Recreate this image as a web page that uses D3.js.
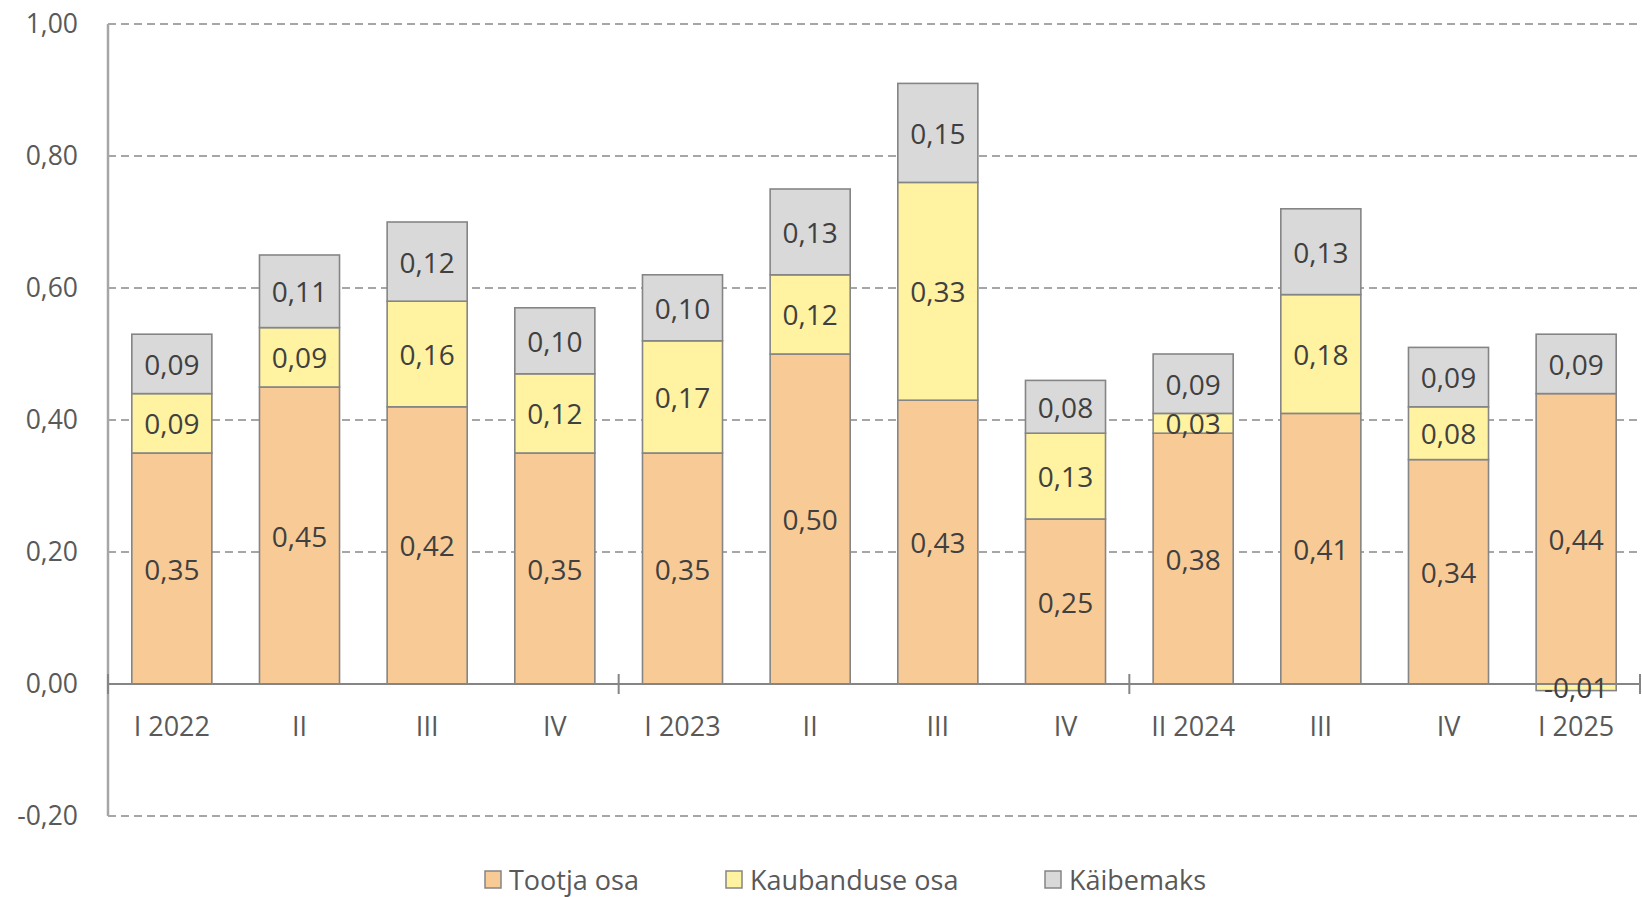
<!DOCTYPE html>
<html>
<head>
<meta charset="utf-8">
<script src="https://cdn.jsdelivr.net/npm/d3@7/dist/d3.min.js"></script>
<style>
  html, body { margin: 0; padding: 0; background: #ffffff; }
  svg { display: block; font-family: "Open Sans", "Noto Sans", sans-serif; }
</style>
</head>
<body>
<svg id="chart" width="1642" height="897"></svg>
<script>
// Quarterly categories
const categories = ["I 2022", "II", "III", "IV", "I 2023", "II", "III", "IV", "II 2024", "III", "IV", "I 2025"];

// Series values (euro per unit)
const tootjaOsa     = [0.35, 0.45, 0.42, 0.35, 0.35, 0.50, 0.43, 0.25, 0.38, 0.41, 0.34, 0.44];
const kaubanduseOsa = [0.09, 0.09, 0.16, 0.12, 0.17, 0.12, 0.33, 0.13, 0.03, 0.18, 0.08, -0.01];
const kaibemaks     = [0.09, 0.11, 0.12, 0.10, 0.10, 0.13, 0.15, 0.08, 0.09, 0.13, 0.09, 0.09];

const seriesNames = ["Tootja osa", "Kaubanduse osa", "Käibemaks"];
const seriesColors = ["#F8CB96", "#FFF2A1", "#D9D9D9"];

// Value axis ticks
const yTicks = [-0.20, 0.00, 0.20, 0.40, 0.60, 0.80, 1.00];
// Category boundaries where the axis carries a tick mark (index of band start)
const groupTicks = [0, 4, 8, 12];

const locale = d3.formatLocale({ decimal: ",", thousands: " ", grouping: [3], currency: ["", " €"], minus: "-" });
const fmt = locale.format(".2f");

const svg = d3.select("#chart");

const plotLeft = 108, plotRight = 1640;
const y = d3.scaleLinear().domain([-0.2, 1.0]).range([816, 24]);
const x = d3.scaleBand()
  .domain(d3.range(categories.length))
  .range([plotLeft, plotRight])
  .paddingInner(0.373)
  .paddingOuter(0.1865);
const step = x.step();

// Rows for stacking
const rows = categories.map((c, i) => ({
  i,
  "Tootja osa": tootjaOsa[i],
  "Kaubanduse osa": kaubanduseOsa[i],
  "Käibemaks": kaibemaks[i]
}));
const stacked = d3.stack().keys(seriesNames).offset(d3.stackOffsetDiverging)(rows);

// Gridlines (dashed), except at zero
svg.append("g").selectAll("line")
  .data(yTicks.filter(t => t !== 0))
  .join("line")
  .attr("x1", plotLeft).attr("x2", 1642)
  .attr("y1", d => y(d)).attr("y2", d => y(d))
  .attr("stroke", "#A6A6A6")
  .attr("stroke-width", 2)
  .attr("stroke-dasharray", "8,5");

// Y axis labels
const yAxis = d3.axisLeft(y).tickValues(yTicks).tickFormat(fmt).tickSize(0).tickPadding(30);
const yg = svg.append("g").attr("transform", `translate(${plotLeft},0)`).call(yAxis);
yg.select(".domain").remove();
yg.selectAll("text")
  .attr("fill", "#595959")
  .attr("font-size", 26.5)
  .attr("font-family", "'Open Sans', 'Noto Sans', sans-serif");

// Bars
const layers = svg.append("g").selectAll("g")
  .data(stacked)
  .join("g")
  .attr("fill", (d, k) => seriesColors[k]);

layers.selectAll("rect")
  .data(d => d)
  .join("rect")
  .attr("x", d => x(d.data.i))
  .attr("width", x.bandwidth())
  .attr("y", d => y(Math.max(d[0], d[1])))
  .attr("height", d => Math.abs(y(d[0]) - y(d[1])))
  .attr("stroke", "#858585")
  .attr("stroke-width", 1.6);

// Y axis line
svg.append("line")
  .attr("x1", plotLeft).attr("x2", plotLeft)
  .attr("y1", y(1.0)).attr("y2", y(-0.2))
  .attr("stroke", "#A6A6A6").attr("stroke-width", 2.5);

// Zero line with group tick marks
svg.append("line")
  .attr("x1", plotLeft).attr("x2", plotRight)
  .attr("y1", y(0)).attr("y2", y(0))
  .attr("stroke", "#858585").attr("stroke-width", 2);
svg.append("g").selectAll("line")
  .data(groupTicks)
  .join("line")
  .attr("x1", d => plotLeft + d * step).attr("x2", d => plotLeft + d * step)
  .attr("y1", y(0) - 10).attr("y2", y(0) + 10)
  .attr("stroke", "#858585").attr("stroke-width", 2);

// Category labels
svg.append("g").selectAll("text")
  .data(categories)
  .join("text")
  .attr("x", (d, i) => x(i) + x.bandwidth() / 2)
  .attr("y", 725)
  .attr("text-anchor", "middle")
  .attr("dominant-baseline", "central")
  .attr("fill", "#595959")
  .attr("font-size", 27)
  .text(d => d);

// Segment value labels
const labels = svg.append("g");
stacked.forEach(layer => {
  labels.selectAll(null)
    .data(layer)
    .join("text")
    .attr("x", d => x(d.data.i) + x.bandwidth() / 2)
    .attr("y", d => y((d[0] + d[1]) / 2))
    .attr("text-anchor", "middle")
    .attr("dominant-baseline", "central")
    .attr("fill", "#404040")
    .attr("font-size", 28)
    .text(d => fmt(d.data[layer.key]));
});

// Legend
const legendX = [485, 726, 1045];
const lg = svg.append("g").selectAll("g")
  .data(seriesNames)
  .join("g")
  .attr("transform", (d, k) => `translate(${legendX[k]},879)`);
lg.append("rect")
  .attr("x", 0).attr("y", -8)
  .attr("width", 16).attr("height", 17)
  .attr("fill", (d, k) => seriesColors[k])
  .attr("stroke", "#858585").attr("stroke-width", 1.5);
lg.append("text")
  .attr("x", 24).attr("y", 0)
  .attr("dominant-baseline", "central")
  .attr("fill", "#595959")
  .attr("font-size", 27)
  .text(d => d);
</script>
</body>
</html>
